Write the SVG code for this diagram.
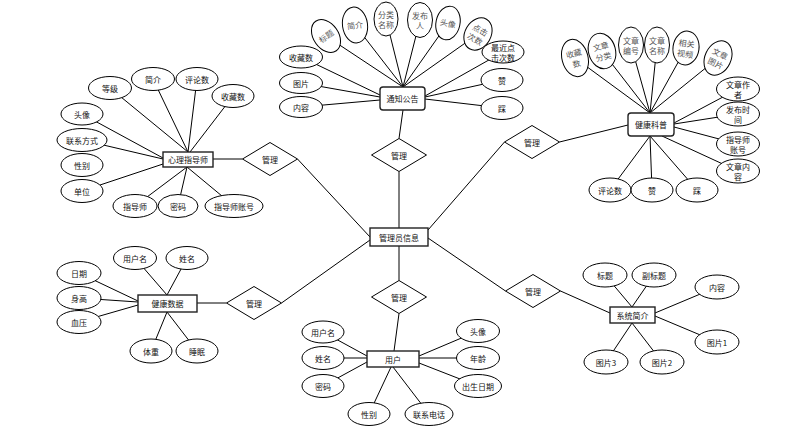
<svg xmlns="http://www.w3.org/2000/svg" width="809" height="432" viewBox="0 0 809 432">
<style>
.e{fill:#fff;stroke:#000;stroke-width:1}
.r{fill:#fff;stroke:#222;stroke-width:1.4}
.d{fill:#fff;stroke:#000;stroke-width:1}
.c line{stroke:#000;stroke-width:1}
text{font-family:"Noto Sans CJK SC","Noto Sans",sans-serif;font-size:8px;fill:#111;text-anchor:middle;dominant-baseline:central}
.g{fill:#555;font-size:8px}
</style>
<rect width="809" height="432" fill="#fff"/>
<g class="c" id="connectors">
<!-- notice -->
<line x1="326" y1="36" x2="403" y2="87"/><line x1="355" y1="25" x2="403" y2="87"/><line x1="386" y1="19" x2="403" y2="87"/>
<line x1="420" y1="20" x2="403" y2="87"/><line x1="448" y1="23" x2="403" y2="87"/><line x1="478" y1="34" x2="403" y2="87"/>
<line x1="301" y1="57" x2="380" y2="95"/><line x1="301" y1="83" x2="380" y2="97"/><line x1="301" y1="107" x2="380" y2="100"/>
<line x1="503" y1="52" x2="425" y2="96"/><line x1="502" y1="80" x2="425" y2="97"/><line x1="502" y1="108" x2="425" y2="99"/>
<!-- psych -->
<line x1="110" y1="88" x2="188" y2="152"/><line x1="153" y1="79" x2="188" y2="152"/><line x1="197" y1="79" x2="188" y2="152"/><line x1="233" y1="96" x2="190" y2="152"/>
<line x1="82" y1="114" x2="163" y2="158"/><line x1="82" y1="140" x2="163" y2="159"/><line x1="82" y1="191" x2="163" y2="164"/>
<line x1="135" y1="206" x2="187" y2="167"/><line x1="178" y1="206" x2="187" y2="167"/><line x1="234" y1="206" x2="187" y2="167"/>
<!-- health knowledge -->
<line x1="575" y1="58" x2="650" y2="113"/><line x1="602" y1="51" x2="650" y2="113"/><line x1="631" y1="45" x2="650" y2="113"/>
<line x1="657" y1="45" x2="650" y2="113"/><line x1="686" y1="48" x2="650" y2="113"/><line x1="718" y1="58" x2="650" y2="113"/>
<line x1="738" y1="89" x2="674" y2="123"/><line x1="738" y1="114" x2="674" y2="124"/><line x1="738" y1="144" x2="674" y2="127"/><line x1="738" y1="171" x2="662" y2="136"/>
<line x1="610" y1="190" x2="650" y2="136"/><line x1="652" y1="190" x2="650" y2="136"/><line x1="697" y1="190" x2="650" y2="136"/>
<!-- health data -->
<line x1="135" y1="258" x2="167" y2="295"/><line x1="187" y1="258" x2="167" y2="295"/>
<line x1="79" y1="273" x2="138" y2="301"/><line x1="79" y1="298" x2="138" y2="302"/><line x1="79" y1="322" x2="138" y2="305"/>
<line x1="151" y1="351" x2="167" y2="312"/><line x1="197" y1="351" x2="167" y2="312"/>
<!-- user -->
<line x1="323" y1="332" x2="367" y2="356"/><line x1="323" y1="358" x2="367" y2="358"/><line x1="323" y1="386" x2="367" y2="362"/>
<line x1="478" y1="331" x2="419" y2="356"/><line x1="478" y1="358" x2="419" y2="358"/><line x1="478" y1="386" x2="419" y2="363"/>
<line x1="369" y1="414" x2="391" y2="367"/><line x1="429" y1="414" x2="393" y2="367"/>
<!-- system -->
<line x1="605" y1="275" x2="632" y2="307"/><line x1="654" y1="275" x2="632" y2="307"/>
<line x1="717" y1="287" x2="655" y2="313"/><line x1="717" y1="342" x2="655" y2="316"/>
<line x1="606" y1="362" x2="632" y2="323"/><line x1="662" y1="362" x2="632" y2="323"/>
<!-- relationships -->
<line x1="213" y1="159" x2="242.5" y2="159"/><line x1="297.5" y1="159" x2="370" y2="237"/>
<line x1="403" y1="110" x2="399" y2="138.5"/><line x1="399" y1="171.5" x2="399" y2="228"/>
<line x1="628" y1="125" x2="559.5" y2="142"/><line x1="504.5" y1="142" x2="428" y2="230"/>
<line x1="197" y1="303" x2="226.5" y2="303"/><line x1="281.5" y1="303" x2="370" y2="240"/>
<line x1="399" y1="246" x2="399" y2="280.5"/><line x1="399" y1="313.5" x2="394" y2="351"/>
<line x1="428" y1="238" x2="505.5" y2="291"/><line x1="560.5" y1="291" x2="610" y2="313"/>
</g>

<!-- 通知公告 -->
<g id="notice"><rect class="r" x="380" y="87" width="45" height="23" rx="3"/><text x="402.5" y="98.5">通知公告</text></g>
<g id="n-title" transform="translate(326,36) rotate(-35)"><ellipse class="e" rx="12.5" ry="18"/><text class="g">标题</text></g>
<g id="n-intro" transform="translate(355,25) rotate(-8)"><ellipse class="e" rx="12.5" ry="18"/><text class="g">简介</text></g>
<g id="n-cat" transform="translate(386,19)"><ellipse class="e" rx="12" ry="17"/><text class="g" y="-5">分类</text><text class="g" y="5.5">名称</text></g>
<g id="n-pub" transform="translate(420,20)"><ellipse class="e" rx="12.5" ry="17.5"/><text class="g" y="-5">发布</text><text class="g" y="5.5">人</text></g>
<g id="n-avatar" transform="translate(448,23) rotate(12)"><ellipse class="e" rx="12" ry="17"/><text class="g">头像</text></g>
<g id="n-clicks" transform="translate(478,34) rotate(30)"><ellipse class="e" rx="13" ry="17"/><text class="g" y="-5">点击</text><text class="g" y="5.5">次数</text></g>
<g id="n-fav"><ellipse class="e" cx="301" cy="57" rx="21.5" ry="11"/><text x="301" y="57">收藏数</text></g>
<g id="n-img"><ellipse class="e" cx="301" cy="83" rx="21.5" ry="10.5"/><text x="301" y="83">图片</text></g>
<g id="n-content"><ellipse class="e" cx="301" cy="107" rx="21.5" ry="10.5"/><text x="301" y="107">内容</text></g>
<g id="n-recent"><ellipse class="e" cx="503" cy="52" rx="21" ry="11"/><text x="503" y="47">最近点</text><text x="503" y="57">击次数</text></g>
<g id="n-like"><ellipse class="e" cx="502" cy="80" rx="21" ry="11.5"/><text x="502" y="80">赞</text></g>
<g id="n-dislike"><ellipse class="e" cx="502" cy="108" rx="21" ry="11.5"/><text x="502" y="108">踩</text></g>

<!-- 心理指导师 -->
<g id="psych"><rect class="r" x="163" y="152" width="50" height="15"/><text x="188" y="159.5">心理指导师</text></g>
<g id="p-level"><ellipse class="e" cx="110" cy="88" rx="21.5" ry="11.5"/><text x="110" y="88">等级</text></g>
<g id="p-intro"><ellipse class="e" cx="153" cy="79" rx="21.5" ry="11.5"/><text x="153" y="79">简介</text></g>
<g id="p-comments"><ellipse class="e" cx="197" cy="79" rx="21" ry="11.5"/><text x="197" y="79">评论数</text></g>
<g id="p-fav"><ellipse class="e" cx="233" cy="96" rx="21" ry="11.5"/><text x="233" y="96">收藏数</text></g>
<g id="p-avatar"><ellipse class="e" cx="82" cy="114" rx="21" ry="11"/><text x="82" y="114">头像</text></g>
<g id="p-contact"><ellipse class="e" cx="82" cy="140" rx="25" ry="11.5"/><text x="82" y="140">联系方式</text></g>
<g id="p-gender"><ellipse class="e" cx="82" cy="165" rx="21" ry="11.5"/><text x="82" y="165">性别</text></g>
<g id="p-unit"><ellipse class="e" cx="82" cy="191" rx="21" ry="11.5"/><text x="82" y="191">单位</text></g>
<g id="p-mentor"><ellipse class="e" cx="135" cy="206" rx="22" ry="11.5"/><text x="135" y="206">指导师</text></g>
<g id="p-pwd"><ellipse class="e" cx="178" cy="206" rx="20" ry="11.5"/><text x="178" y="206">密码</text></g>
<g id="p-account"><ellipse class="e" cx="234" cy="206" rx="29" ry="11.5"/><text x="234" y="206">指导师账号</text></g>

<!-- 健康科普 -->
<g id="knowledge"><rect class="r" x="628" y="113" width="46" height="23" rx="3"/><text x="651" y="124.5">健康科普</text></g>
<g id="k-fav" transform="translate(575,58) rotate(-15)"><ellipse class="e" rx="13" ry="19"/><text class="g" y="-5">收藏</text><text class="g" y="5.5">数</text></g>
<g id="k-cat" transform="translate(602,51) rotate(-15)"><ellipse class="e" rx="13.5" ry="18"/><text class="g" y="-5">文章</text><text class="g" y="5.5">分类</text></g>
<g id="k-no" transform="translate(631,45)"><ellipse class="e" rx="12.5" ry="18"/><text class="g" y="-5">文章</text><text class="g" y="5.5">编号</text></g>
<g id="k-name" transform="translate(657,45)"><ellipse class="e" rx="12.5" ry="18"/><text class="g" y="-5">文章</text><text class="g" y="5.5">名称</text></g>
<g id="k-video" transform="translate(686,48) rotate(8)"><ellipse class="e" rx="13" ry="17"/><text class="g" y="-5">相关</text><text class="g" y="5.5">视频</text></g>
<g id="k-img" transform="translate(718,58) rotate(25)"><ellipse class="e" rx="13" ry="18"/><text class="g" y="-5">文章</text><text class="g" y="5.5">图片</text></g>
<g id="k-author"><ellipse class="e" cx="738" cy="89" rx="21.5" ry="12"/><text x="738" y="84">文章作</text><text x="738" y="94.5">者</text></g>
<g id="k-time"><ellipse class="e" cx="738" cy="114" rx="21.5" ry="12"/><text x="738" y="109">发布时</text><text x="738" y="119.5">间</text></g>
<g id="k-account"><ellipse class="e" cx="738" cy="144" rx="21.5" ry="12"/><text x="738" y="139">指导师</text><text x="738" y="149.5">账号</text></g>
<g id="k-content"><ellipse class="e" cx="738" cy="171" rx="21.5" ry="12"/><text x="738" y="166">文章内</text><text x="738" y="176.5">容</text></g>
<g id="k-comments"><ellipse class="e" cx="610" cy="190" rx="21" ry="12"/><text x="610" y="190">评论数</text></g>
<g id="k-like"><ellipse class="e" cx="652" cy="190" rx="21" ry="12"/><text x="652" y="190">赞</text></g>
<g id="k-dislike"><ellipse class="e" cx="697" cy="190" rx="21" ry="12"/><text x="697" y="190">踩</text></g>

<!-- 管理员信息 -->
<g id="admin"><rect class="r" x="370" y="228" width="58" height="18"/><text x="399" y="237">管理员信息</text></g>

<!-- relationships -->
<g id="rel1"><polygon class="d" points="242.5,159 270,142.5 297.5,159 270,175.5"/><text x="270" y="159">管理</text></g>
<g id="rel2"><polygon class="d" points="371.5,155 399,138.5 426.5,155 399,171.5"/><text x="399" y="155">管理</text></g>
<g id="rel3"><polygon class="d" points="504.5,142 532,125.5 559.5,142 532,158.5"/><text x="532" y="142">管理</text></g>
<g id="rel4"><polygon class="d" points="226.5,303 254,286.5 281.5,303 254,319.5"/><text x="254" y="303">管理</text></g>
<g id="rel5"><polygon class="d" points="371.5,297 399,280.5 426.5,297 399,313.5"/><text x="399" y="297">管理</text></g>
<g id="rel6"><polygon class="d" points="505.5,291 533,274.5 560.5,291 533,307.5"/><text x="533" y="291">管理</text></g>

<!-- 健康数据 -->
<g id="healthdata"><rect class="r" x="138" y="295" width="59" height="17"/><text x="167.5" y="303.5">健康数据</text></g>
<g id="h-user"><ellipse class="e" cx="135" cy="258" rx="21.5" ry="11.5"/><text x="135" y="258">用户名</text></g>
<g id="h-name"><ellipse class="e" cx="187" cy="258" rx="21" ry="11.5"/><text x="187" y="258">姓名</text></g>
<g id="h-date"><ellipse class="e" cx="79" cy="273" rx="22" ry="11.5"/><text x="79" y="273">日期</text></g>
<g id="h-height"><ellipse class="e" cx="79" cy="298" rx="22" ry="11.5"/><text x="79" y="298">身高</text></g>
<g id="h-bp"><ellipse class="e" cx="79" cy="322" rx="22" ry="11.5"/><text x="79" y="322">血压</text></g>
<g id="h-weight"><ellipse class="e" cx="151" cy="351" rx="21" ry="12"/><text x="151" y="351">体重</text></g>
<g id="h-sleep"><ellipse class="e" cx="197" cy="351" rx="21" ry="12"/><text x="197" y="351">睡眠</text></g>

<!-- 用户 -->
<g id="user"><rect class="r" x="367" y="351" width="52" height="16"/><text x="393" y="359">用户</text></g>
<g id="u-user"><ellipse class="e" cx="323" cy="332" rx="21" ry="11"/><text x="323" y="332">用户名</text></g>
<g id="u-name"><ellipse class="e" cx="323" cy="358" rx="21" ry="11.5"/><text x="323" y="358">姓名</text></g>
<g id="u-pwd"><ellipse class="e" cx="323" cy="386" rx="21" ry="11.5"/><text x="323" y="386">密码</text></g>
<g id="u-avatar"><ellipse class="e" cx="478" cy="331" rx="21.5" ry="11.5"/><text x="478" y="331">头像</text></g>
<g id="u-age"><ellipse class="e" cx="478" cy="358" rx="21.5" ry="11.5"/><text x="478" y="358">年龄</text></g>
<g id="u-birth"><ellipse class="e" cx="478" cy="386" rx="23.5" ry="11.5"/><text x="478" y="386">出生日期</text></g>
<g id="u-gender"><ellipse class="e" cx="369" cy="414" rx="21" ry="11.5"/><text x="369" y="414">性别</text></g>
<g id="u-phone"><ellipse class="e" cx="429" cy="414" rx="24" ry="11.5"/><text x="429" y="414">联系电话</text></g>

<!-- 系统简介 -->
<g id="system"><rect class="r" x="610" y="307" width="45" height="16"/><text x="632.5" y="315">系统简介</text></g>
<g id="s-title"><ellipse class="e" cx="605" cy="275" rx="22" ry="12"/><text x="605" y="275">标题</text></g>
<g id="s-subtitle"><ellipse class="e" cx="654" cy="275" rx="22" ry="12"/><text x="654" y="275">副标题</text></g>
<g id="s-content"><ellipse class="e" cx="717" cy="287" rx="22" ry="12"/><text x="717" y="287">内容</text></g>
<g id="s-img1"><ellipse class="e" cx="717" cy="342" rx="22" ry="12"/><text x="717" y="342">图片1</text></g>
<g id="s-img3"><ellipse class="e" cx="606" cy="362" rx="22" ry="12"/><text x="606" y="362">图片3</text></g>
<g id="s-img2"><ellipse class="e" cx="662" cy="362" rx="22" ry="12"/><text x="662" y="362">图片2</text></g>
</svg>
